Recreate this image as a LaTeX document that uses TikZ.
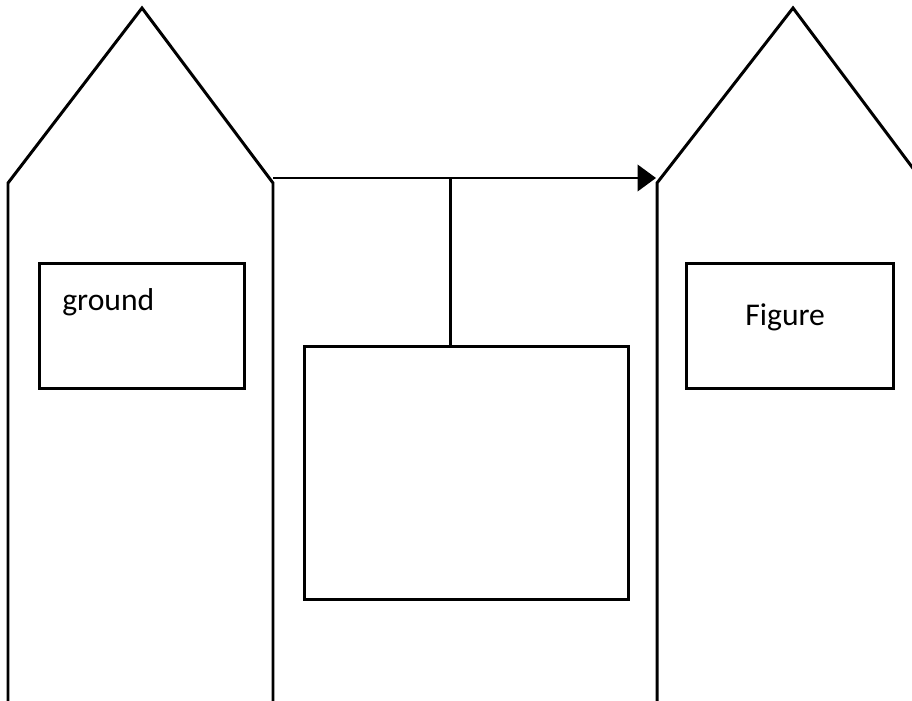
\documentclass[tikz,border=0pt]{standalone}
\usepackage{fontspec}
\setmainfont{Carlito}
\usetikzlibrary{arrows.meta}
\begin{document}
\begin{tikzpicture}[x=0.02cm,y=-0.02cm,
  outline/.style={draw=black,line width=1.7pt,line join=miter},
  panel/.style={draw=black,line width=1.7pt,inner sep=0pt,anchor=north west},
  label/.style={font=\fontsize{18}{21}\selectfont,anchor=base west,inner sep=0pt}]
  \useasboundingbox (0,0) rectangle (912,700);
  \clip (0,0) rectangle (912,700);
  % house-shaped frames
  \draw[outline] (8,720) -- (8,183) -- (142,8) -- (273,183) -- (273,720);
  \draw[outline] (657,720) -- (657,183) -- (793,8) -- (924,183) -- (924,720);
  % inner boxes
  \node[panel,minimum width=4.1cm,minimum height=2.5cm] (ground) at (38,262) {};
  \node[panel,minimum width=4.14cm,minimum height=2.5cm] (figure) at (685,262) {};
  \node[panel,minimum width=6.48cm,minimum height=5.06cm] (center) at (303,345) {};
  \node[label] (groundtxt) at (62,310) {ground};
  \node[label] (figuretxt) at (745,325) {Figure};
  % connector
  \coordinate (start) at (273,178);
  \coordinate (stop) at (656,178);
  \coordinate (branch) at (450,178);
  \draw[outline,-{Triangle[length=10.5pt,width=15pt]}] (start) -- (stop);
  \draw[outline] (branch) -- (center.north -| branch);
\end{tikzpicture}
\end{document}
